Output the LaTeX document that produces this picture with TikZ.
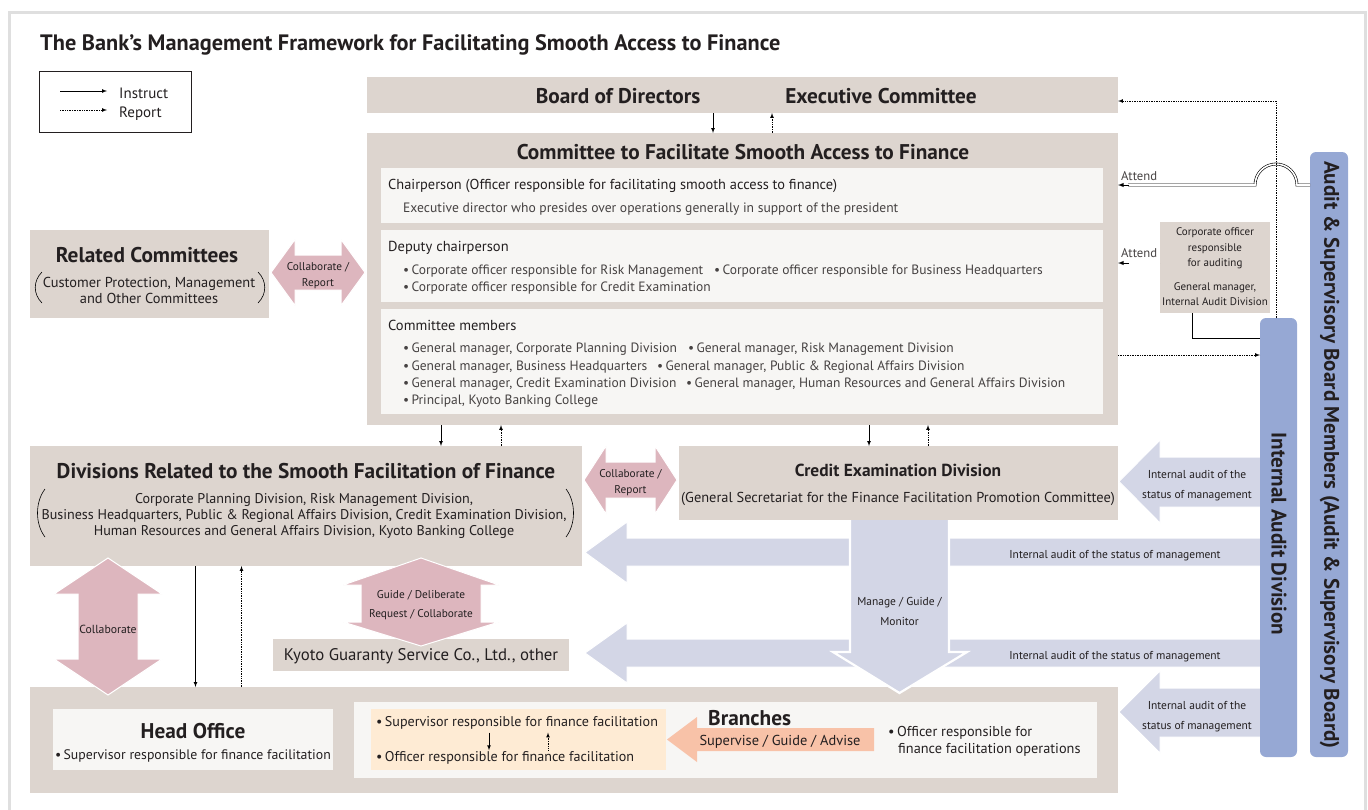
\documentclass[tikz,border=0pt]{standalone}
\usepackage{fontspec}
\setmainfont{PT Sans}
\newfontfamily\barfont{PT Sans}
\usetikzlibrary{calc}

\definecolor{boxgray}{RGB}{221,213,207}
\definecolor{panelwhite}{RGB}{247,246,244}
\definecolor{pinkarrow}{RGB}{221,182,190}
\definecolor{auditarrow}{RGB}{211,214,230}
\definecolor{barblue}{RGB}{150,168,212}
\definecolor{orangearrow}{RGB}{248,194,168}
\definecolor{peach}{RGB}{254,235,212}
\definecolor{framegray}{RGB}{223,223,223}
\definecolor{ink}{RGB}{35,31,32}
\definecolor{softink}{RGB}{70,66,66}

\tikzset{
  box/.style={fill=boxgray, inner sep=0pt, outer sep=0pt, anchor=north west},
  panel/.style={fill=panelwhite, inner sep=0pt, outer sep=0pt, anchor=north west},
  bar/.style={fill=barblue, rounded corners=6pt, inner sep=0pt, outer sep=0pt, anchor=north west},
  head/.style={inner sep=0pt, anchor=mid, yshift=-5pt, text=ink, font=\fontsize{21.3}{24}\selectfont\bfseries},
  txt/.style={inner sep=0pt, anchor=mid west, yshift=-3pt, text=ink, font=\fontsize{14}{17}\selectfont},
  lbl/.style={inner sep=0pt, align=center, yshift=-2.5pt, text=ink, font=\fontsize{11.3}{16}\selectfont},
  bartext/.style={inner sep=0pt, rotate=-90, text=ink, font=\fontsize{21.1}{24}\barfont\bfseries},
  instruct/.style={->, line width=0.7pt},
  report/.style={->, line width=0.7pt, densely dotted},
  attend/.style={double=white, double distance=1.6pt, line width=0.6pt},
  pinkblock/.style={fill=pinkarrow, draw=white, line width=1pt},
  auditblock/.style={fill=auditarrow, draw=white, line width=1pt}
}

\begin{document}
\begin{tikzpicture}[x=1pt,y=-1pt,>=latex]
\useasboundingbox (0,0) rectangle (1368,809);
\draw[framegray, line width=3pt] (9,830) -- (9,12) -- (1365,12) -- (1365,830);

\node[inner sep=0pt, anchor=base west, text=ink, font=\fontsize{22.3}{26}\selectfont\bfseries] (title) at (40,50) {The Bank’s Management Framework for Facilitating Smooth Access to Finance};

% legend
\node[draw=ink, line width=0.8pt, minimum width=152pt, minimum height=61pt, inner sep=0pt, anchor=north west] (legend) at (39,71) {};
\coordinate (ins-a) at (60,91);
\coordinate (ins-b) at (107,91);
\coordinate (rep-a) at (60,110);
\coordinate (rep-b) at (107,110);
\draw[instruct] (ins-a) -- (ins-b);
\draw[report] (rep-a) -- (rep-b);
\node[txt, font=\fontsize{15}{17}\selectfont] (ins-t) at (119,93) {Instruct};
\node[txt, font=\fontsize{15}{17}\selectfont] (rep-t) at (119,112) {Report};

% boxes
\node[box, minimum width=751pt, minimum height=36pt] (bod) at (367,77) {};
\node[box, minimum width=751pt, minimum height=292pt] (cfa) at (367,133) {};
\node[panel, minimum width=722pt, minimum height=55pt] (chair) at (381,168) {};
\node[panel, minimum width=722pt, minimum height=72pt] (deputy) at (381,230) {};
\node[panel, minimum width=722pt, minimum height=105pt] (members) at (381,309) {};
\node[box, minimum width=239pt, minimum height=88pt] (relc) at (30,230) {};
\node[box, minimum width=552pt, minimum height=120pt] (divs) at (30,446) {};
\node[box, minimum width=439pt, minimum height=74pt] (cred) at (679,446) {};
\node[box, minimum width=296pt, minimum height=32pt] (kgs) at (273,639) {};
\node[box, minimum width=1088pt, minimum height=106pt] (hobr) at (30,687) {};
\node[panel, minimum width=280pt, minimum height=61pt] (ho) at (53,709) {};
\node[panel, minimum width=743pt, minimum height=76pt] (br) at (354,702) {};
\node[fill=peach, minimum width=295pt, minimum height=61pt, inner sep=0pt, anchor=north west] (brsup) at (371,709) {};
\node[box, minimum width=110pt, minimum height=91pt] (cao) at (1160,222) {};

% audit arrows
\path[auditblock] (1260,457) -- (1160,457) -- (1160,440) -- (1119,481.5) -- (1160,523) -- (1160,507) -- (1260,507);
\path[auditblock] (1260,538) -- (627,538) -- (627,522) -- (585,552.5) -- (627,583) -- (627,566) -- (1260,566);
\path[auditblock] (1260,639) -- (627,639) -- (627,623) -- (585,653) -- (627,683) -- (627,667) -- (1260,667);
\path[auditblock] (1260,688) -- (1160,688) -- (1160,671) -- (1119,712) -- (1160,753) -- (1160,737) -- (1260,737);
\path[auditblock, line width=2.2pt] (850,520) -- (850,652) -- (833,652) -- (899.5,693) -- (967,652) -- (949,652) -- (949,520);

% collaborate arrows
\path[pinkblock] (271,272.5) -- (295,239.5) -- (295,255) -- (341,255) -- (341,239.5) -- (365,272.5) -- (341,305.5) -- (341,290) -- (295,290) -- (295,305.5) -- cycle;
\path[pinkblock] (584,480) -- (606,446) -- (606,462) -- (655,462) -- (655,446) -- (677,480) -- (655,514) -- (655,498) -- (606,498) -- (606,514) -- cycle;
\path[pinkblock] (108,558) -- (162,594) -- (138,594) -- (138,659) -- (162,659) -- (108,695) -- (54,659) -- (78,659) -- (78,594) -- (54,594) -- cycle;
\path[pinkblock] (421,558) -- (499,585) -- (481,585) -- (481,622) -- (499,622) -- (421,646) -- (343,622) -- (361,622) -- (361,585) -- (343,585) -- cycle;
\path[fill=orangearrow] (667,739.5) -- (697,717) -- (697,728) -- (874,728) -- (874,751) -- (697,751) -- (697,762) -- cycle;

% audit bars
\node[bar, minimum width=37pt, minimum height=439pt] (iad) at (1260,318) {};
\node[bar, minimum width=38pt, minimum height=605pt] (asb) at (1310,152) {};
\node[bartext] (iad-t) at (1279,534) {Internal Audit Division};
\node[bartext] (asb-t) at (1329.5,455) {Audit \& Supervisory Board Members (Audit \& Supervisory Board)};

% texts
\node[head] (bod-t) at (618,96) {Board of Directors};
\node[head] (exc-t) at (881,96) {Executive Committee};
\node[head] (cfa-t) at (743,152) {Committee to Facilitate Smooth Access to Finance};
\node[txt, font=\fontsize{14.4}{17}\selectfont] (chair-t) at (388,184) {Chairperson (Officer responsible for facilitating smooth access to finance)};
\node[txt, text=softink, font=\fontsize{13.6}{17}\selectfont] (chair-s) at (403,207) {Executive director who presides over operations generally in support of the president};
\node[txt, font=\fontsize{14.5}{17}\selectfont] (dep-t) at (388,246) {Deputy chairperson};
\node[txt, text=softink, font=\fontsize{13.5}{17}\selectfont] (dep-1) at (403,269) {•\,Corporate officer responsible for Risk Management};
\node[txt, text=softink, font=\fontsize{13.5}{17}\selectfont] (dep-2) at (714,269) {•\,Corporate officer responsible for Business Headquarters};
\node[txt, text=softink, font=\fontsize{13.5}{17}\selectfont] (dep-3) at (403,286) {•\,Corporate officer responsible for Credit Examination};
\node[txt, font=\fontsize{14.5}{17}\selectfont] (mem-t) at (388,325) {Committee members};
\node[txt, text=softink, font=\fontsize{13.5}{17}\selectfont] (mem-1) at (403,347) {•\,General manager, Corporate Planning Division};
\node[txt, text=softink, font=\fontsize{13.5}{17}\selectfont] (mem-2) at (688,347) {•\,General manager, Risk Management Division};
\node[txt, text=softink, font=\fontsize{13.5}{17}\selectfont] (mem-3) at (403,365) {•\,General manager, Business Headquarters};
\node[txt, text=softink, font=\fontsize{13.5}{17}\selectfont] (mem-4) at (657,365) {•\,General manager, Public \& Regional Affairs Division};
\node[txt, text=softink, font=\fontsize{13.5}{17}\selectfont] (mem-5) at (403,382) {•\,General manager, Credit Examination Division};
\node[txt, text=softink, font=\fontsize{13.5}{17}\selectfont] (mem-6) at (686,382) {•\,General manager, Human Resources and General Affairs Division};
\node[txt, text=softink, font=\fontsize{13.5}{17}\selectfont] (mem-7) at (403,399) {•\,Principal, Kyoto Banking College};

\node[head] (relc-t) at (147,255) {Related Committees};
\node[lbl, font=\fontsize{14.4}{16}\selectfont] (relc-s) at (149,288) {Customer Protection, Management\\and Other Committees};
\draw[line width=0.6pt] (42,272) .. controls (33,281) and (33,294) .. (42,303);
\draw[line width=0.6pt] (258,272) .. controls (267,281) and (267,294) .. (258,303);
\node[lbl] (col-1) at (318,273) {Collaborate /\\Report};

\node[head] (divs-t) at (306,471) {Divisions Related to the Smooth Facilitation of Finance};
\node[lbl, font=\fontsize{14.1}{16}\selectfont] (divs-s) at (304,513) {Corporate Planning Division, Risk Management Division,\\Business Headquarters, Public \& Regional Affairs Division, Credit Examination Division,\\Human Resources and General Affairs Division, Kyoto Banking College};
\draw[line width=0.6pt] (45,489) .. controls (35,502) and (35,524) .. (45,537);
\draw[line width=0.6pt] (566,489) .. controls (576,502) and (576,524) .. (566,537);
\node[lbl] (col-2) at (630.5,480) {Collaborate /\\Report};

\node[head, font=\fontsize{17.4}{20}\selectfont\bfseries] (cred-t) at (898,469) {Credit Examination Division};
\node[txt, anchor=mid, font=\fontsize{14.4}{18}\selectfont] (cred-s) at (898,497) {(General Secretariat for the Finance Facilitation Promotion Committee)};

\node[txt, anchor=mid, font=\fontsize{16.8}{20}\selectfont] (kgs-t) at (kgs.center) {Kyoto Guaranty Service Co., Ltd., other};
\node[lbl, font=\fontsize{11.3}{19}\selectfont] (guide) at (421,603) {Guide / Deliberate\\Request / Collaborate};
\node[lbl, font=\fontsize{11.7}{16}\selectfont] (col-3) at (108,627) {Collaborate};
\node[lbl, font=\fontsize{11.5}{20}\selectfont] (manage) at (899.5,609) {Manage / Guide /\\Monitor};

\node[lbl, font=\fontsize{11.5}{20}\selectfont] (aud-1) at (1197,483) {Internal audit of the\\status of management};
\node[lbl, font=\fontsize{11.5}{20}\selectfont] (aud-2) at (1115,553) {Internal audit of the status of management};
\node[lbl, font=\fontsize{11.5}{20}\selectfont] (aud-3) at (1115,654) {Internal audit of the status of management};
\node[lbl, font=\fontsize{11.5}{20}\selectfont] (aud-4) at (1197,714) {Internal audit of the\\status of management};

\node[head] (ho-t) at (193,731) {Head Office};
\node[txt, anchor=mid, font=\fontsize{13.8}{17}\selectfont] (ho-s) at (193,754) {•\,Supervisor responsible for finance facilitation};
\node[txt, font=\fontsize{14.1}{17}\selectfont] (brsup-1) at (376,721) {•\,Supervisor responsible for finance facilitation};
\node[txt, font=\fontsize{14.1}{17}\selectfont] (brsup-2) at (376,756) {•\,Officer responsible for finance facilitation};
\node[head, anchor=mid west] (br-t) at (708,718) {Branches};
\node[txt, anchor=mid, font=\fontsize{14.4}{17}\selectfont] (sga) at (780,740) {Supervise / Guide / Advise};
\node[txt, font=\fontsize{14.3}{17}\selectfont] (br-off-1) at (888,731) {•\,Officer responsible for};
\node[txt, font=\fontsize{14.3}{17}\selectfont] (br-off-2) at (898,748) {finance facilitation operations};

\node[lbl, yshift=1pt, font=\fontsize{11}{15.5}\selectfont] (cao-1) at (1215,247) {Corporate officer\\responsible\\for auditing};
\node[lbl, yshift=1pt, font=\fontsize{11}{15}\selectfont] (cao-2) at (1215,292.5) {General manager,\\Internal Audit Division};

% instruct / report
\draw[instruct] (713,0 |- bod.south) -- (713,0 |- cfa.north);
\draw[report] (772,0 |- cfa.north) -- (772,0 |- bod.south);
\draw[instruct] (441,0 |- cfa.south) -- (441,0 |- divs.north);
\draw[report] (501,0 |- divs.north) -- (501,0 |- cfa.south);
\draw[instruct] (869,0 |- cfa.south) -- (869,0 |- cred.north);
\draw[report] (928,0 |- cred.north) -- (928,0 |- cfa.south);
\draw[instruct] (195.5,0 |- divs.south) -- (195.5,0 |- hobr.north);
\draw[report] (241.5,0 |- hobr.north) -- (241.5,0 |- divs.south);
\draw[instruct, shorten <=3pt, shorten >=1pt] (489,0 |- brsup-1.south) -- (489,0 |- brsup-2.north);
\draw[report, shorten <=1pt, shorten >=3pt] (548,0 |- brsup-2.north) -- (548,0 |- brsup-1.south);

% attend and audit lines
\draw[attend] (asb.west |- 0,185) -- (1297,185) arc[start angle=0, end angle=-180, radius=21] -- (1128,185);
\draw[->, line width=0.9pt] (1129,185) -- (cfa.east |- 0,185);
\draw[attend] (cao.west |- 0,263) -- (1128,263);
\draw[->, line width=0.9pt] (1129,263) -- (cfa.east |- 0,263);
\node[lbl, anchor=base west, text=softink, font=\fontsize{12.7}{15}\selectfont] (att-1) at (1121,177.5) {Attend};
\node[lbl, anchor=base west, text=softink, font=\fontsize{12.7}{15}\selectfont] (att-2) at (1121,254.5) {Attend};
\draw[report] (1276,0 |- iad.north) -- (1276,101) -- (bod.east |- 0,101);
\draw[line width=0.8pt] (1192,0 |- cao.south) |- (iad.west |- 0,338);
\draw[report] (cfa.east |- 0,355) -- (iad.west |- 0,355);

\end{tikzpicture}
\end{document}
